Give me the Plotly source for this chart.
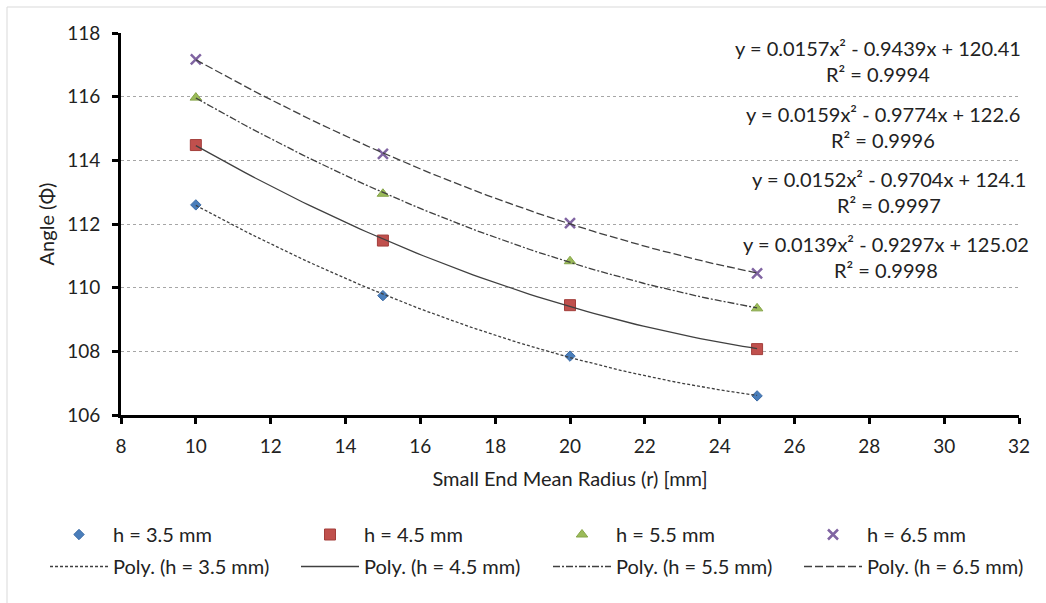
import numpy as np
import plotly.graph_objects as go

radius = [10, 15, 20, 25]
series_names = ["h = 3.5 mm", "h = 4.5 mm", "h = 5.5 mm", "h = 6.5 mm"]
angle_h35 = [112.6, 109.75, 107.85, 106.6]
angle_h45 = [114.48, 111.48, 109.45, 108.07]
angle_h55 = [115.97, 112.95, 110.83, 109.35]
angle_h65 = [117.17, 114.2, 112.03, 110.45]
eq_texts = ["y = 0.0157x² - 0.9439x + 120.41", "y = 0.0159x² - 0.9774x + 122.6",
            "y = 0.0152x² - 0.9704x + 124.1", "y = 0.0139x² - 0.9297x + 125.02"]
r2_texts = ["R² = 0.9994", "R² = 0.9996", "R² = 0.9997", "R² = 0.9998"]

all_series = [angle_h35, angle_h45, angle_h55, angle_h65]
colors = ["#4A7EBB", "#C0504D", "#9BBB59", "#8064A2"]
border = ["#3A6AA5", "#A33E3B", "#86A548", "#6A4F8C"]
symbols = ["diamond", "square", "triangle-up", "x-thin"]
msizes = [8, 11, 10, 10]
dashes = ["3px,2px", "solid", "7px,2px,2px,2px", "8px,3px"]

FONT = "Lato"
TXT = "#222222"
fig = go.Figure()

# marker legends: first two series in "legend", last two in "legend2"
# trend legends: first two in "legend3", last two in "legend4"
marker_legs = ["legend", "legend", "legend2", "legend2"]
line_legs = ["legend3", "legend3", "legend4", "legend4"]

for i, ys in enumerate(all_series):
    mk = dict(symbol=symbols[i], size=msizes[i], color=colors[i],
              line=dict(width=1, color=border[i]))
    if symbols[i] == "x-thin":
        mk = dict(symbol="x-thin", size=msizes[i], color=colors[i],
                  line=dict(width=2.5, color=colors[i]))
    fig.add_trace(go.Scatter(x=radius, y=ys, mode="markers", name=series_names[i],
                             marker=mk, legend=marker_legs[i], cliponaxis=False))

for i, ys in enumerate(all_series):
    coef = np.polyfit(radius, ys, 2)
    xs = np.linspace(min(radius), max(radius), 80)
    fig.add_trace(go.Scatter(x=xs, y=np.polyval(coef, xs), mode="lines",
                             name="Poly. (" + series_names[i] + ")",
                             line=dict(color="#404040", width=1.3, dash=dashes[i]),
                             legend=line_legs[i]))

# equation labels (pixel centers converted to paper coords)
L, R, T, B = 121, 1019, 33, 415
def px(p):
    return (p - L) / (R - L)
def py(q):
    return (B - q) / (B - T)

eq_pos = [(878, 48, 74), (883, 114, 140), (889, 179, 205), (886, 244, 270)]
for i in range(4):
    cx, y1, y2 = eq_pos[i]
    fig.add_annotation(x=px(cx), y=py(y1), xref="paper", yref="paper", text=eq_texts[i],
                       xanchor="center", yanchor="middle",
                       showarrow=False, font=dict(family=FONT, size=20, color=TXT))
    fig.add_annotation(x=px(cx), y=py(y2), xref="paper", yref="paper", text=r2_texts[i],
                       xanchor="center", yanchor="middle",
                       showarrow=False, font=dict(family=FONT, size=20, color=TXT))

# chart area border
fig.add_shape(type="rect", xref="paper", yref="paper",
              x0=px(7), x1=px(1060), y0=py(620), y1=py(7),
              line=dict(color="#D9D9D9", width=1), layer="below")

leg_common = dict(orientation="h", xref="container", yref="container",
                  xanchor="left", yanchor="top",
                  entrywidth=178, entrywidthmode="pixels", itemwidth=58,
                  font=dict(family=FONT, size=20, color=TXT), bgcolor="rgba(0,0,0,0)")

fig.update_layout(
    width=1046, height=603,
    margin=dict(l=L, r=1046 - R, t=T, b=603 - B),
    paper_bgcolor="white", plot_bgcolor="white",
    font=dict(family=FONT, size=18, color=TXT),
    showlegend=True,
    legend=dict(x=45 / 1046, y=1 - 515 / 603, **leg_common),
    legend2=dict(x=548 / 1046, y=1 - 515 / 603, **leg_common),
    legend3=dict(x=45 / 1046, y=1 - 547 / 603, **leg_common),
    legend4=dict(x=548 / 1046, y=1 - 547 / 603, **leg_common),
    xaxis=dict(range=[8, 32], tickmode="linear", tick0=8, dtick=2,
               showgrid=False, zeroline=False,
               showline=True, linecolor="black", linewidth=3,
               ticks="outside", ticklen=6, tickwidth=3, tickcolor="black",
               ticklabelstandoff=6,
               tickfont=dict(family=FONT, size=19, color=TXT),
               title=dict(text="Small End Mean Radius (r) [mm]",
                          font=dict(family=FONT, size=20, color=TXT), standoff=17)),
    yaxis=dict(range=[106, 118], tickmode="linear", tick0=106, dtick=2,
               showgrid=True, gridcolor="#A6A6A6", gridwidth=1, griddash="dot",
               zeroline=False,
               showline=True, linecolor="black", linewidth=3,
               ticks="outside", ticklen=6, tickwidth=3, tickcolor="black",
               ticklabelstandoff=8,
               tickfont=dict(family=FONT, size=19, color=TXT),
               title=dict(text="Angle (Φ)", font=dict(family=FONT, size=20, color=TXT),
                          standoff=8)),
)

fig.write_html("out.html")
